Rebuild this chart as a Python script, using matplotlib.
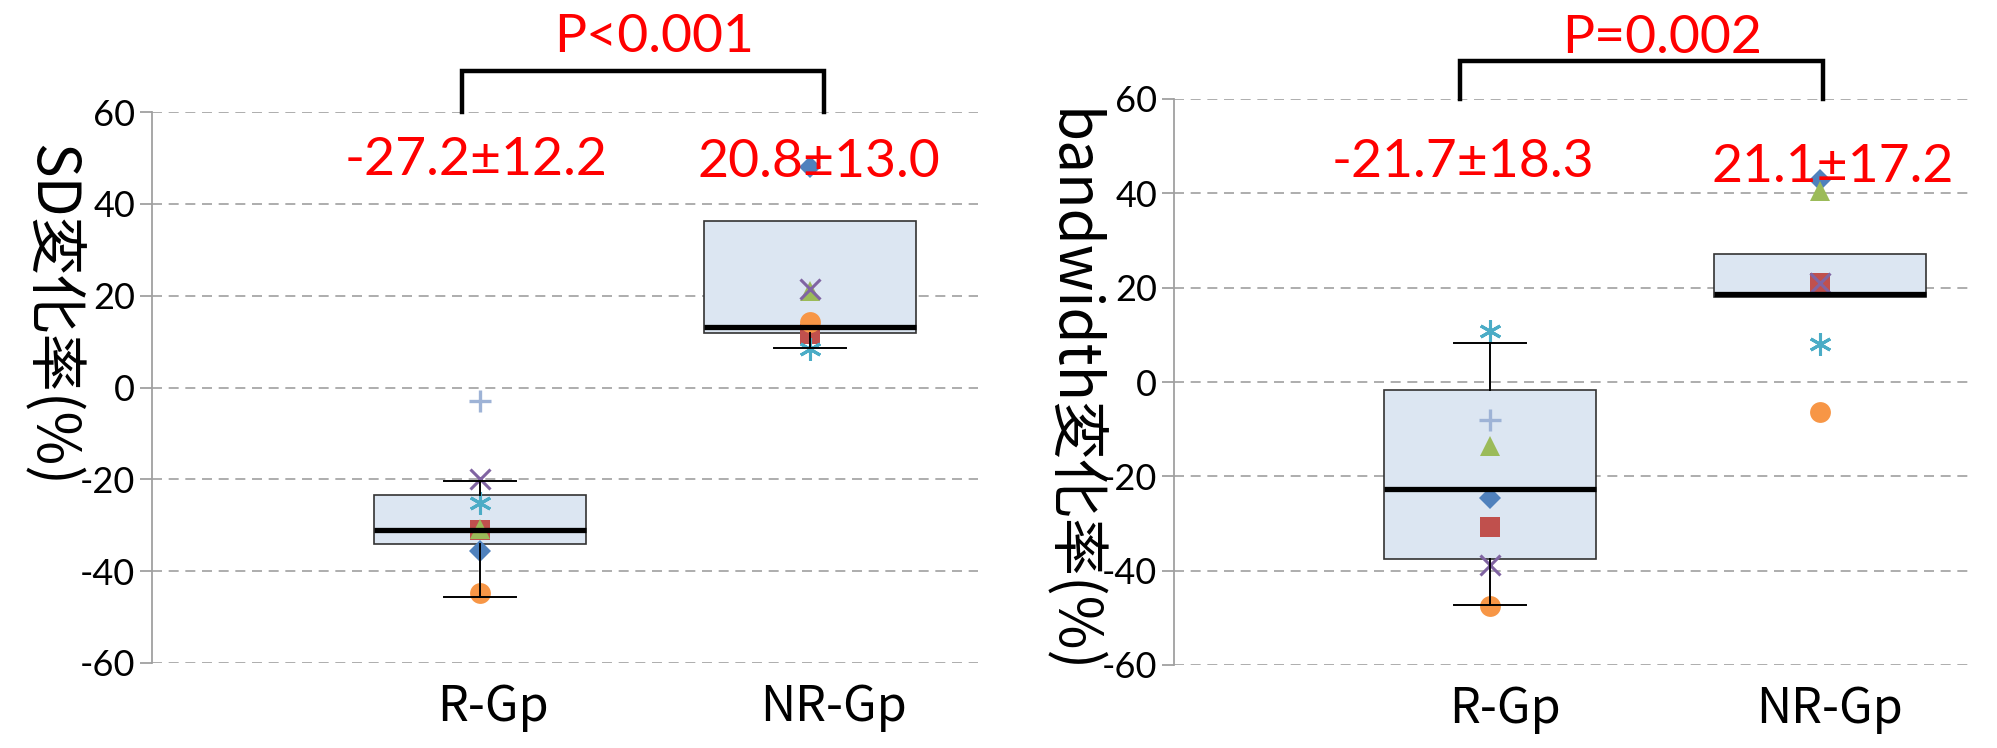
import matplotlib
matplotlib.use('Agg')
import matplotlib.pyplot as plt
import numpy as np

plt.rcParams['font.family'] = ['Noto Sans CJK JP', 'DejaVu Sans']
plt.rcParams['axes.unicode_minus'] = False

groups = ['R-Gp', 'NR-Gp']
y_ticks = [-60, -40, -20, 0, 20, 40, 60]

# ---- Panel 1: SD change rate (%) ----
sd_diamond = [-35.6, 48.1]
sd_square = [-31.0, 11.6]
sd_triangle = [-30.8, 21.0]
sd_xmark = [-20.0, 21.5]
sd_star = [-25.2, 8.4]
sd_circle = [-44.8, 14.3]
sd_plus = [-2.9, np.nan]
sd_q1 = [-34.0, 11.9]
sd_med = [-31.1, 13.2]
sd_q3 = [-23.5, 36.3]
sd_whislo = [-45.6, 8.6]
sd_whishi = [-20.3, 36.3]
sd_stats_text = ['-27.2±12.2', '20.8±13.0']
sd_p_text = 'P<0.001'
sd_ylabel = 'SD変化率(%)'

# ---- Panel 2: bandwidth change rate (%) ----
bw_diamond = [-24.5, 42.8]
bw_square = [-30.8, 21.0]
bw_triangle = [-13.5, 40.5]
bw_xmark = [-38.8, 21.0]
bw_star = [10.8, 8.1]
bw_circle = [-47.5, -6.4]
bw_plus = [-8.1, np.nan]
bw_q1 = [-37.6, 18.0]
bw_med = [-22.7, 18.7]
bw_q3 = [-1.6, 27.2]
bw_whislo = [-47.3, 18.0]
bw_whishi = [8.3, 27.2]
bw_stats_text = ['-21.7±18.3', '21.1±17.2']
bw_p_text = 'P=0.002'
bw_ylabel = 'bandwidth変化率(%)'

# marker styles (Excel default series order)
styles = [
    dict(marker='D', color='#4F81BD', ms=11, mew=0),
    dict(marker='s', color='#C0504D', ms=14, mew=0),
    dict(marker='^', color='#9BBB59', ms=15, mew=0),
    dict(marker='x', color='#8064A2', ms=15, mew=2.2),
    dict(marker=(6, 2, 0), color='#4BACC6', ms=16, mew=2.2),
    dict(marker='o', color='#F79646', ms=15, mew=0),
    dict(marker='+', color='#9EB3D6', ms=16, mew=2.4),
]

LATIN = ['Lato', 'DejaVu Sans']

W, H = 1997, 748
fig = plt.figure(figsize=(W / 100, H / 100), dpi=100)


def px_axes(x0, x1, ytop, ybot):
    return [x0 / W, 1 - ybot / H, (x1 - x0) / W, (ybot - ytop) / H]


def panel(ax, xlim, series, q1, med, q3, wlo, whi, stats_text, stats_pos,
          p_text, p_pos, bracket, label_shift):
    pos = np.arange(1, len(groups) + 1)
    stats = [dict(med=med[i], q1=q1[i], q3=q3[i], whislo=wlo[i], whishi=whi[i])
             for i in range(len(groups))]
    bp = ax.bxp(stats, positions=pos, widths=0.645, patch_artist=True,
                showfliers=False, capwidths=0.22, manage_ticks=False,
                boxprops=dict(facecolor='#DCE6F2', edgecolor='#333333', linewidth=1.2),
                medianprops=dict(color='black', linewidth=3.8, solid_capstyle='butt'),
                whiskerprops=dict(color='black', linewidth=1.4),
                capprops=dict(color='black', linewidth=1.4))
    for b in bp['boxes']:
        b.set_zorder(1.5)
    for key in ('medians', 'whiskers', 'caps'):
        for ln in bp[key]:
            ln.set_zorder(4)
    for i, s in enumerate(stats):
        if s['whislo'] >= s['q1']:
            bp['whiskers'][2 * i].set_visible(False)
            bp['caps'][2 * i].set_visible(False)
        if s['whishi'] <= s['q3']:
            bp['whiskers'][2 * i + 1].set_visible(False)
            bp['caps'][2 * i + 1].set_visible(False)

    for vals, st in zip(series, styles):
        ax.plot(pos, vals, linestyle='none', marker=st['marker'], color=st['color'],
                markersize=st['ms'], markeredgewidth=st['mew'],
                markeredgecolor=st['color'], zorder=3)

    ax.set_xlim(*xlim)
    ax.set_ylim(-60, 60)
    ax.set_yticks(y_ticks)
    ax.yaxis.grid(True, color='#A0A0A0', linestyle=(0, (6, 4)), linewidth=1.2)
    ax.set_axisbelow(True)
    for sp in ('top', 'right', 'bottom'):
        ax.spines[sp].set_visible(False)
    ax.spines['left'].set_color('#A0A0A0')
    ax.spines['left'].set_linewidth(1.3)
    ax.tick_params(axis='y', direction='out', length=9, width=1.3, color='#A0A0A0',
                   labelsize=26, pad=3)
    for lab in ax.get_yticklabels():
        lab.set_fontfamily(LATIN)
    ax.set_xticks(pos + np.array(label_shift))
    ax.set_xticklabels(groups)
    ax.tick_params(axis='x', length=0, labelsize=35, pad=14)

    for i, t in enumerate(stats_text):
        ax.text(stats_pos[i][0], stats_pos[i][1], t, color='#FF0000', fontsize=38.5,
                family=LATIN, ha='center', va='baseline', clip_on=False)
    ax.text(p_pos[0], p_pos[1], p_text, color='#FF0000', fontsize=38.5,
            family=LATIN, ha='center', va='baseline', clip_on=False)
    bx0, bx1, btop = bracket
    ax.plot([bx0, bx0, bx1, bx1], [60, btop, btop, 60], color='black', lw=3.2,
            clip_on=False, solid_joinstyle='miter', zorder=5)


ax1 = fig.add_axes(px_axes(152, 978, 112, 663))
panel(ax1, (0.006, 2.509),
      [sd_diamond, sd_square, sd_triangle, sd_xmark, sd_star, sd_circle, sd_plus],
      sd_q1, sd_med, sd_q3, sd_whislo, sd_whishi,
      sd_stats_text, [(0.988, 46.3), (2.027, 45.9)],
      sd_p_text, (1.527, 73.1), (0.945, 2.042, 68.9), [0.04, 0.07])

ax2 = fig.add_axes(px_axes(1174, 1972, 99, 665))
panel(ax2, (0.042, 2.461),
      [bw_diamond, bw_square, bw_triangle, bw_xmark, bw_star, bw_circle, bw_plus],
      bw_q1, bw_med, bw_q3, bw_whislo, bw_whishi,
      bw_stats_text, [(0.918, 43.5), (2.039, 42.5)],
      bw_p_text, (1.521, 69.7), (0.909, 2.009, 68.06), [0.045, 0.03])

fig.text(50 / W, 1 - 315 / H, sd_ylabel, rotation=270, fontsize=42,
         ha='center', va='center')
fig.text(1070 / W, 1 - 392 / H, bw_ylabel, rotation=270, fontsize=42,
         ha='center', va='center')

fig.savefig('out.png', dpi=100)
